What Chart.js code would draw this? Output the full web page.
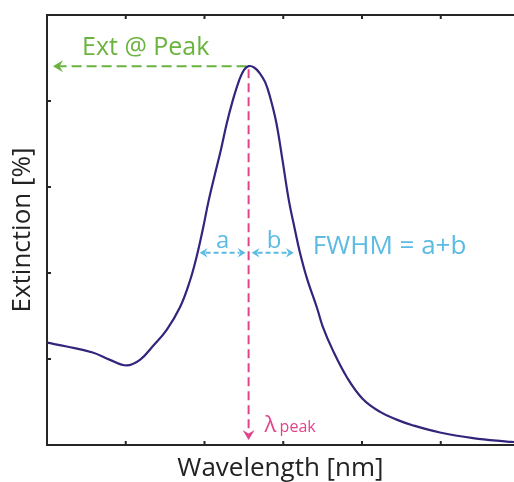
<!doctype html>
<html>
  <head>
    <title>Extinction spectrum</title>
    <script src="https://cdn.jsdelivr.net/npm/chart.js@4/dist/chart.umd.min.js"></script>
    <style>
      html, body { margin: 0; padding: 0; background: #fff; overflow: hidden; }
      #box { width: 514px; height: 482px; }
    </style>
  </head>
  <body>
    <div id="box"><canvas id="ExtChart"></canvas></div>

    <script>
    // spectrum (wavelength in nm, extinction in %)
    var wavelength = [300, 325, 358, 380, 401, 418, 434, 452, 469, 481, 490, 498, 505, 513, 521, 528, 536, 544, 550, 556,
                      563, 570, 577, 583, 591, 599, 607, 615, 621, 630, 643, 650, 663, 681, 701, 723, 744, 764, 799, 841,
                      884, 893];
    var extinction = [23.8, 22.9, 21.5, 19.8, 18.5, 19.8, 22.9, 26.8, 32.1, 37.9, 43.8, 50.3, 56.6, 62.8, 68.8, 74.6, 80.2, 84.8, 87.2, 88.1,
                      87.8, 86.5, 84.4, 81.1, 75.1, 66.3, 57.0, 49.9, 44.9, 38.8, 31.8, 27.6, 22.0, 15.7, 10.7, 7.7, 5.9, 4.6, 2.9, 1.6,
                      0.8, 0.7];

    var xTicks = [400, 500, 600, 700, 800];
    var yTicks = [20, 40, 60, 80];

    var peakWl = 556;
    var peakExt = 88.1;
    var fwhmLevel = 44.7;
    var halfLeftWl = 490;
    var halfRightWl = 621;

    var axisColor = '#262626';
    var curveColor = '#33247c';
    var green = '#6ab43e';
    var pink = '#e0448b';
    var cyan = '#5cbbe3';
    var fontName = "'Open Sans', sans-serif";

    function arrowHead(ctx, x, y, dx, dy, size) {
      var half = size * 0.6;
      ctx.beginPath();
      ctx.moveTo(x, y);
      ctx.lineTo(x - dx * size - dy * half, y - dy * size + dx * half);
      ctx.lineTo(x - dx * size * 0.65, y - dy * size * 0.65);
      ctx.lineTo(x - dx * size + dy * half, y - dy * size - dx * half);
      ctx.closePath();
      ctx.fill();
    }

    var frameAndNotes = {
      id: 'frameAndNotes',
      beforeDatasetsDraw: function(chart) {
        var ctx = chart.ctx;
        var area = chart.chartArea;
        var xs = chart.scales.x;
        var ys = chart.scales.y;

        ctx.save();
        // top line + inward ticks
        ctx.strokeStyle = axisColor;
        ctx.lineWidth = 2;
        ctx.beginPath();
        ctx.moveTo(area.left, area.top);
        ctx.lineTo(area.right, area.top);
        ctx.stroke();
        xTicks.forEach(function(v) {
          var px = xs.getPixelForValue(v);
          ctx.beginPath();
          ctx.moveTo(px, area.bottom);
          ctx.lineTo(px, area.bottom - 4);
          ctx.moveTo(px, area.top);
          ctx.lineTo(px, area.top + 4);
          ctx.stroke();
        });
        yTicks.forEach(function(v) {
          var py = ys.getPixelForValue(v);
          ctx.beginPath();
          ctx.moveTo(area.left, py);
          ctx.lineTo(area.left + 4, py);
          ctx.stroke();
        });

        var xPeak = xs.getPixelForValue(peakWl);
        var yPeak = ys.getPixelForValue(peakExt);
        var yHalf = ys.getPixelForValue(fwhmLevel);
        var xLeft = xs.getPixelForValue(halfLeftWl);
        var xRight = xs.getPixelForValue(halfRightWl);

        // Ext @ Peak
        ctx.strokeStyle = green;
        ctx.fillStyle = green;
        ctx.setLineDash([10, 5]);
        ctx.beginPath();
        ctx.moveTo(xPeak - 2, yPeak);
        ctx.lineTo(area.left + 10, yPeak);
        ctx.stroke();
        ctx.setLineDash([]);
        arrowHead(ctx, area.left + 6, yPeak, -1, 0, 10);
        ctx.font = '25px ' + fontName;
        ctx.textBaseline = 'alphabetic';
        ctx.textAlign = 'left';
        ctx.fillText('Ext @ Peak', area.left + 35, yPeak - 11);

        // lambda peak
        ctx.strokeStyle = pink;
        ctx.fillStyle = pink;
        ctx.setLineDash([9, 5]);
        ctx.beginPath();
        ctx.moveTo(xPeak, yPeak + 3);
        ctx.lineTo(xPeak, area.bottom - 12);
        ctx.stroke();
        ctx.setLineDash([]);
        arrowHead(ctx, xPeak, area.bottom - 5, 0, 1, 10);
        ctx.font = '22px ' + fontName;
        ctx.fillText('\u03bb', xPeak + 16, area.bottom - 13);
        ctx.font = '16px ' + fontName;
        ctx.fillText('peak', xPeak + 31, area.bottom - 13);

        // FWHM arrows
        ctx.strokeStyle = cyan;
        ctx.fillStyle = cyan;
        ctx.setLineDash([5, 3]);
        ctx.beginPath();
        ctx.moveTo(xLeft + 9, yHalf);
        ctx.lineTo(xPeak - 9, yHalf);
        ctx.moveTo(xPeak + 9, yHalf);
        ctx.lineTo(xRight - 11, yHalf);
        ctx.stroke();
        ctx.setLineDash([]);
        arrowHead(ctx, xLeft + 3, yHalf, -1, 0, 8);
        arrowHead(ctx, xPeak - 3, yHalf, 1, 0, 8);
        arrowHead(ctx, xPeak + 3, yHalf, -1, 0, 8);
        arrowHead(ctx, xRight - 6, yHalf, 1, 0, 8);
        ctx.font = '24px ' + fontName;
        ctx.textAlign = 'center';
        ctx.fillText('a', (xLeft + xPeak) / 2, yHalf - 5);
        ctx.fillText('b', (xPeak + xRight) / 2, yHalf - 5);
        ctx.textAlign = 'left';
        ctx.font = '26px ' + fontName;
        ctx.fillText('FWHM = a+b', xRight + 13, yHalf + 1);
        ctx.restore();
      }
    };

    var points = [];
    for (var i = 0; i < wavelength.length; i++) {
      points.push({x: wavelength[i], y: extinction[i]});
    }

    var ctx = document.getElementById('ExtChart');
    var myChart = new Chart(ctx, {
      type: 'line',
      data: {
        datasets: [{
          data: points,
          borderColor: curveColor,
          borderWidth: 2.2,
          pointRadius: 0,
          fill: false,
          tension: 0.4
        }]
      },
      options: {
        responsive: true,
        maintainAspectRatio: false,
        animation: false,
        layout: { padding: { top: 15, right: 0, left: 0, bottom: 0 } },
        plugins: {
          legend: { display: false },
          tooltip: { enabled: false }
        },
        scales: {
          x: {
            type: 'linear',
            min: 300,
            max: 893,
            grid: { display: false },
            ticks: { display: false },
            border: { display: true, color: axisColor, width: 2 },
            title: {
              display: true,
              text: 'Wavelength [nm]',
              color: '#222',
              font: { family: fontName, size: 26, lineHeight: 1 },
              padding: 0
            },
            afterFit: function(scale) { scale.height = 37; }
          },
          y: {
            min: 0,
            max: 100,
            grid: { display: false },
            ticks: { display: false },
            border: { display: true, color: axisColor, width: 2 },
            title: {
              display: true,
              text: 'Extinction [%]',
              color: '#222',
              font: { family: fontName, size: 26, lineHeight: 1 },
              padding: { top: 10, bottom: 0 }
            },
            afterFit: function(scale) { scale.width = 47; }
          }
        }
      },
      plugins: [frameAndNotes]
    });
    </script>
  </body>
</html>
